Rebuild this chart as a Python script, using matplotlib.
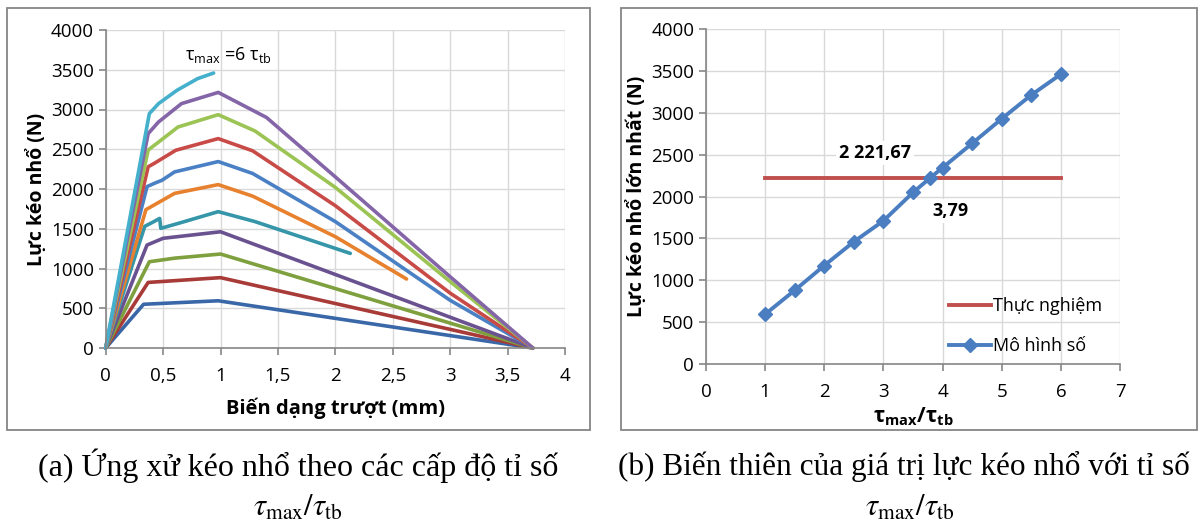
import matplotlib
matplotlib.use("Agg")
import matplotlib.pyplot as plt
from matplotlib.patches import Rectangle

plt.rcParams['font.family'] = ['Open Sans', 'DejaVu Sans']
plt.rcParams['mathtext.fontset'] = 'custom'
plt.rcParams['mathtext.rm'] = 'Open Sans'
plt.rcParams['mathtext.it'] = 'Open Sans'
plt.rcParams['mathtext.bf'] = 'Open Sans:bold'

# ---- panel (a): pull-out curves for each tau_max/tau_tb level ----
slip_1 = [0, 0.33, 0.98, 3.72]
load_1 = [0, 550, 594, 0]
slip_15 = [0, 0.37, 1.0, 3.72]
load_15 = [0, 825, 885, 0]
slip_2 = [0, 0.38, 0.6, 1.0, 3.72]
load_2 = [0, 1085, 1130, 1182, 0]
slip_25 = [0, 0.36, 0.5, 1.0, 3.72]
load_25 = [0, 1295, 1380, 1462, 0]
slip_3 = [0, 0.34, 0.42, 0.47, 0.48, 0.65, 0.98, 1.3, 2.13]
load_3 = [0, 1530, 1590, 1630, 1505, 1575, 1715, 1590, 1190]
slip_35 = [0, 0.35, 0.6, 0.98, 1.28, 2.0, 2.62]
load_35 = [0, 1740, 1945, 2055, 1910, 1400, 868]
slip_4 = [0, 0.36, 0.43, 0.49, 0.6, 0.98, 1.28, 2.0, 3.0, 3.72]
load_4 = [0, 2030, 2075, 2110, 2215, 2345, 2195, 1590, 600, 0]
slip_45 = [0, 0.37, 0.42, 0.61, 0.98, 1.28, 2.0, 3.0, 3.72]
load_45 = [0, 2280, 2320, 2487, 2634, 2480, 1790, 690, 0]
slip_5 = [0, 0.37, 0.46, 0.63, 0.98, 1.3, 2.0, 3.0, 3.72]
load_5 = [0, 2490, 2590, 2780, 2935, 2730, 2020, 835, 0]
slip_55 = [0, 0.37, 0.46, 0.66, 0.98, 1.4, 2.0, 3.0, 3.72]
load_55 = [0, 2697, 2843, 3074, 3215, 2900, 2152, 896, 0]
slip_6 = [0, 0.38, 0.46, 0.62, 0.8, 0.94]
load_6 = [0, 2948, 3074, 3241, 3388, 3459]

curve_colors = ["#3A67A8", "#A83B38", "#7FA03E", "#6A5290", "#3596AA", "#E8812E",
                "#4A80C4", "#C84B48", "#9BC455", "#8465A8", "#45B0CC"]
x_ticks_a = [0, 0.5, 1, 1.5, 2, 2.5, 3, 3.5, 4]
x_ticklabels_a = ["0", "0,5", "1", "1,5", "2", "2,5", "3", "3,5", "4"]

# ---- panel (b): max pull-out force vs ratio ----
ratio = [1, 1.5, 2, 2.5, 3, 3.5, 3.79, 4, 4.5, 5, 5.5, 6]
force_max = [594, 880, 1176, 1460, 1710, 2048, 2221.67, 2344, 2634, 2928, 3212, 3460]
exp_x = [1, 6]
exp_force = [2221.67, 2221.67]

GRID = "#D9D9D9"
AXIS = "#868686"

fig = plt.figure(figsize=(12, 5.21), dpi=100)

# outer chart frames
for x0, x1 in [(7, 590), (621, 1197)]:
    fig.patches.append(Rectangle((x0 / 1200, 1 - 430 / 521), (x1 - x0) / 1200, 422 / 521,
                                 transform=fig.transFigure, fill=False,
                                 edgecolor=AXIS, linewidth=1.3))


def style_axes(ax):
    for s in ("top", "right"):
        ax.spines[s].set_visible(False)
    for s in ("left", "bottom"):
        ax.spines[s].set_color(AXIS)
        ax.spines[s].set_linewidth(1.2)
    ax.tick_params(direction="out", length=5, color=AXIS, width=1.2,
                   labelsize=13.5, labelcolor="black")
    ax.tick_params(axis="x", pad=9)
    ax.grid(True, color=GRID, linewidth=1.0)
    ax.set_axisbelow(True)


# ----- left chart -----
axA = fig.add_axes([105.7 / 1200, 1 - 348 / 521, (565 - 105.7) / 1200, 318 / 521])
style_axes(axA)
curves = [(slip_1, load_1), (slip_15, load_15), (slip_2, load_2), (slip_25, load_25),
          (slip_3, load_3), (slip_35, load_35), (slip_4, load_4), (slip_45, load_45),
          (slip_5, load_5), (slip_55, load_55), (slip_6, load_6)]
for (xs, ys), c in zip(curves, curve_colors):
    axA.plot(xs, ys, color=c, linewidth=2.6, solid_joinstyle="round",
             solid_capstyle="round", clip_on=False)
axA.set_xlim(0, 4)
axA.set_ylim(0, 4000)
axA.set_xticks(x_ticks_a)
axA.set_xticklabels(x_ticklabels_a)
axA.set_yticks(range(0, 4001, 500))
axA.set_xlabel("Biến dạng trượt (mm)", fontsize=14.5, fontweight="bold", labelpad=9)
axA.set_ylabel("Lực kéo nhổ (N)", fontsize=14, fontweight="bold", labelpad=3)
axA.text(0.69, 3690, r"$\mathrm{τ}_{\mathrm{max}}$ =6 $\mathrm{τ}_{\mathrm{tb}}$",
         fontsize=13, ha="left", va="center")

# ----- right chart -----
axB = fig.add_axes([706 / 1200, 1 - 364 / 521, (1120 - 706) / 1200, 335 / 521])
style_axes(axB)
axB.plot(exp_x, exp_force, color="#C0504D", linewidth=2.8, label="Thực nghiệm")
axB.plot(ratio, force_max, color="#4A7EC0", linewidth=2.8, marker="D",
         markersize=7.5, label="Mô hình số")
axB.set_xlim(0, 7)
axB.set_ylim(0, 4000)
axB.set_xticks(range(0, 8))
axB.set_yticks(range(0, 4001, 500))
axB.set_xlabel(r"$\mathbf{τ_{max}/τ_{tb}}$", fontsize=15, labelpad=3)
axB.set_ylabel("Lực kéo nhổ lớn nhất (N)", fontsize=14, fontweight="bold", labelpad=3)
axB.text(2.86, 2519, "2 221,67", fontsize=13, fontweight="bold", ha="center",
         va="center", bbox=dict(facecolor="white", edgecolor="none", pad=2))
axB.text(4.14, 1827, "3,79", fontsize=13, fontweight="bold", ha="center",
         va="center", bbox=dict(facecolor="white", edgecolor="none", pad=2))
axB.legend(loc="lower left", bbox_to_anchor=(0.57, 0.005), frameon=False,
           fontsize=13, handlelength=2.3, handletextpad=0.15, labelspacing=1.2,
           borderaxespad=0)

# ----- captions -----
fig.text(298 / 1200, 1 - 466 / 521, "(a) Ứng xử kéo nhổ theo các cấp độ tỉ số",
         family="Liberation Serif", fontsize=23, ha="center", va="center")
fig.text(298 / 1200, 1 - 508 / 521, r"$\tau_{\mathrm{max}}/\tau_{\mathrm{tb}}$",
         math_fontfamily="stix", fontsize=22, ha="center", va="center")
fig.text(618 / 1200, 1 - 466 / 521, "(b) Biến thiên của giá trị lực kéo nhổ với tỉ số",
         family="Liberation Serif", fontsize=22.5, ha="left", va="center")
fig.text(910 / 1200, 1 - 508 / 521, r"$\tau_{\mathrm{max}}/\tau_{\mathrm{tb}}$",
         math_fontfamily="stix", fontsize=22, ha="center", va="center")

fig.savefig("out.png", dpi=100, facecolor="white")
